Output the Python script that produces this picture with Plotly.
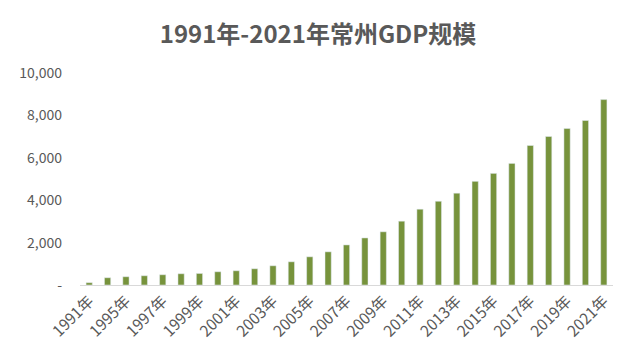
import plotly.graph_objects as go

years = ["1991年", "1994年", "1995年", "1996年", "1997年", "1998年", "1999年", "2000年",
         "2001年", "2002年", "2003年", "2004年", "2005年", "2006年", "2007年", "2008年",
         "2009年", "2010年", "2011年", "2012年", "2013年", "2014年", "2015年", "2016年",
         "2017年", "2018年", "2019年", "2020年", "2021年"]
gdp = [110, 343, 390, 437, 484, 531, 545, 625,
       672, 766, 907, 1095, 1330, 1565, 1890, 2220,
       2510, 3010, 3575, 3950, 4330, 4890, 5265, 5735,
       6580, 7005, 7380, 7760, 8745]
y_ticks = [0, 2000, 4000, 6000, 8000, 10000]
y_tick_text = ["-", "2,000", "4,000", "6,000", "8,000", "10,000"]

fig = go.Figure(go.Bar(x=years, y=gdp, marker_color="#77933C", width=0.34))

fig.update_layout(
    width=637, height=360,
    margin=dict(l=72, r=32, t=65, b=83),
    paper_bgcolor="white", plot_bgcolor="white",
    title=dict(text="<b>1991年-2021年常州GDP规模</b>", x=(318 - 8) / 637, xanchor="center",
               y=1 - 27 / 360, yanchor="middle",
               font=dict(family="Noto Sans CJK SC", size=24, color="#595959")),
    font=dict(family="Noto Sans CJK SC, Open Sans", color="#595959"),
    showlegend=False,
)
fig.update_xaxes(
    type="category", tickmode="array", tickvals=years[::2], ticktext=years[::2],
    tickangle=-45, tickfont=dict(size=15.5, color="#595959"), automargin=False,
    showline=True, linecolor="#D9D9D9", linewidth=1, showgrid=False, ticks="",
)
fig.update_yaxes(
    range=[0, 10000], tickmode="array", tickvals=y_ticks, ticktext=y_tick_text,
    tickfont=dict(size=14, color="#595959"), showgrid=False, zeroline=False,
    showline=False, ticks="", ticklabelstandoff=17, automargin=False,
)

fig.write_html("out.html")
